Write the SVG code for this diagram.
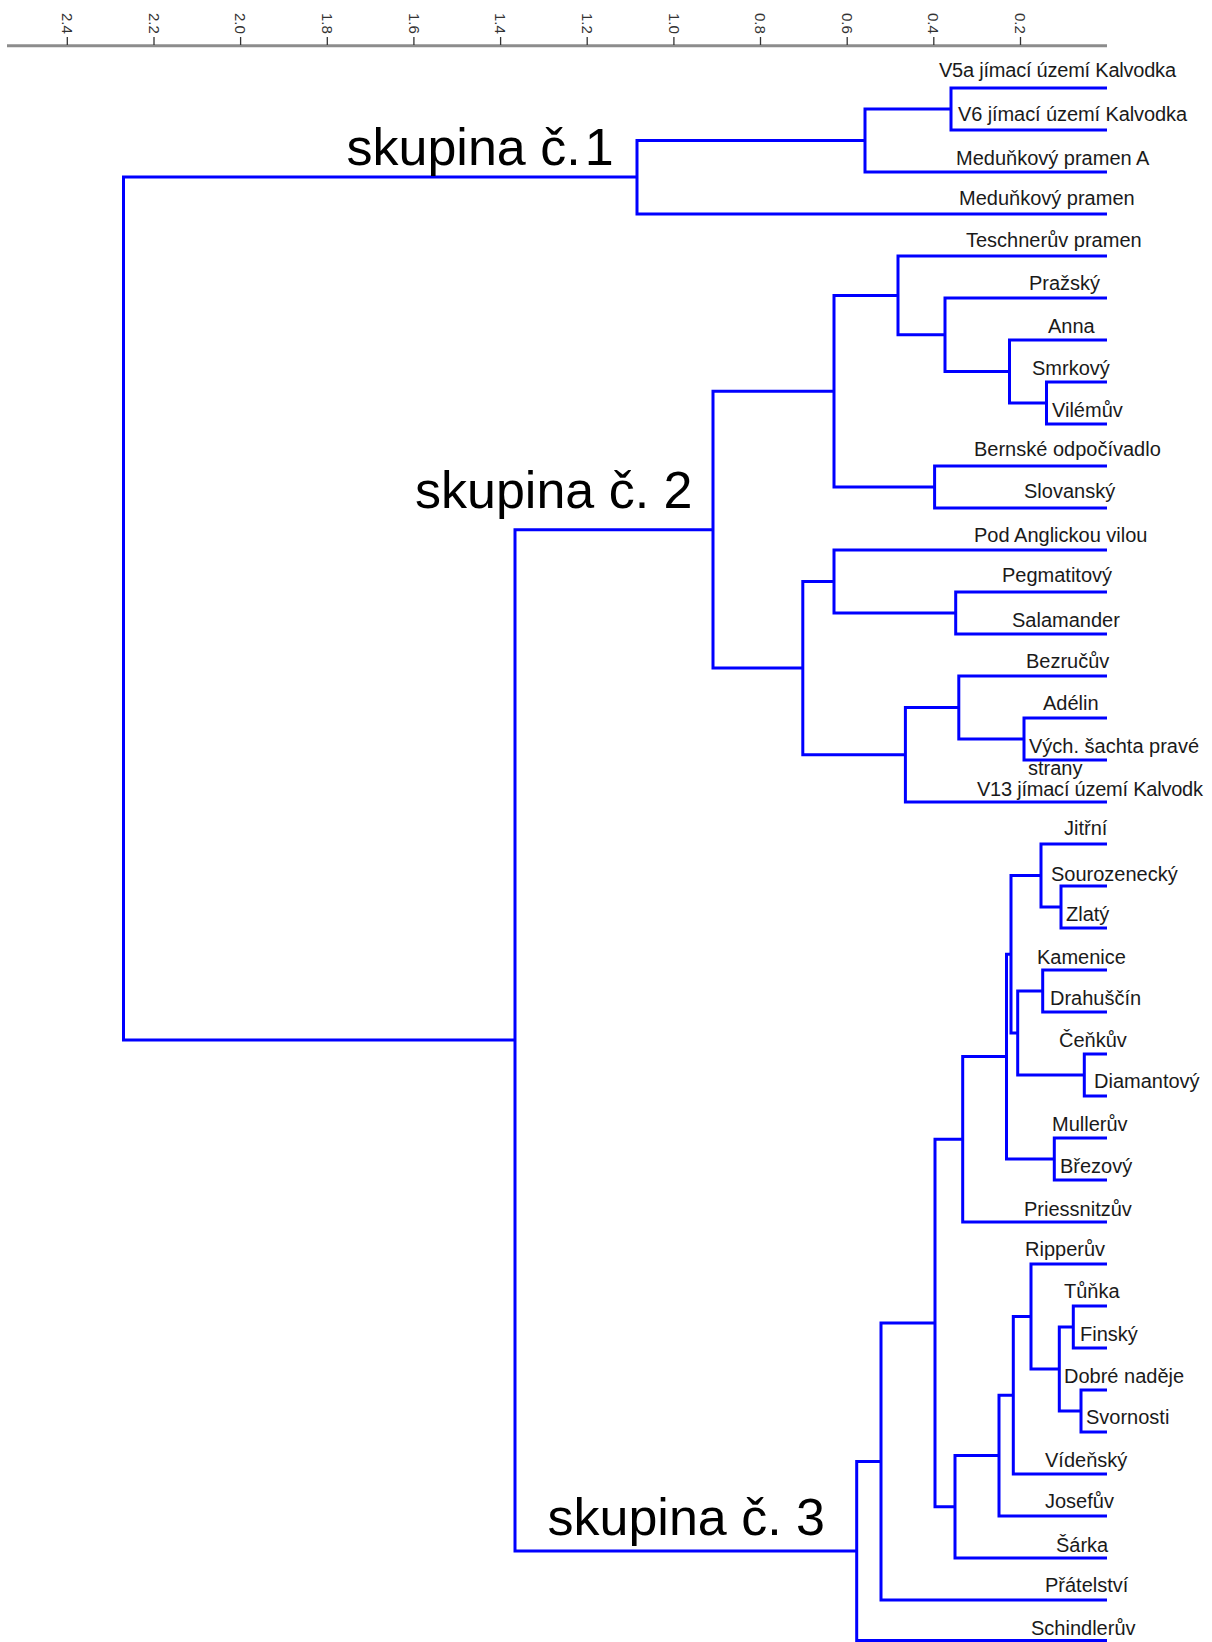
<svg xmlns="http://www.w3.org/2000/svg" width="1212" height="1642" viewBox="0 0 1212 1642">
<style>
.leaf{font-family:"Liberation Sans",Arial,sans-serif;font-size:20px;fill:#1a1a1a}
.grp{font-family:"Liberation Sans",Arial,sans-serif;font-size:52px;fill:#000}
.tick{font-family:"Liberation Sans",Arial,sans-serif;font-size:15px;fill:#333}
.br{fill:none;stroke:#0000ff;stroke-width:3;stroke-linejoin:miter}
.tk{stroke:#333;stroke-width:1.3}
</style>
<rect x="0" y="0" width="1212" height="1642" fill="#fff"/>
<g id="axis">
<line x1="7" y1="45.8" x2="1107" y2="45.8" stroke="#8c8c8c" stroke-width="3"/>
<g class="tk">
<line x1="67.3" y1="37" x2="67.3" y2="45"/>
<line x1="154" y1="37" x2="154" y2="45"/>
<line x1="240.6" y1="37" x2="240.6" y2="45"/>
<line x1="327.3" y1="37" x2="327.3" y2="45"/>
<line x1="413.9" y1="37" x2="413.9" y2="45"/>
<line x1="500.6" y1="37" x2="500.6" y2="45"/>
<line x1="587.2" y1="37" x2="587.2" y2="45"/>
<line x1="673.9" y1="37" x2="673.9" y2="45"/>
<line x1="760.5" y1="37" x2="760.5" y2="45"/>
<line x1="847.2" y1="37" x2="847.2" y2="45"/>
<line x1="933.8" y1="37" x2="933.8" y2="45"/>
<line x1="1020.5" y1="37" x2="1020.5" y2="45"/>
</g>
<g class="tick">
<text transform="translate(61.9,13) rotate(90)">2.4</text>
<text transform="translate(148.6,13) rotate(90)">2.2</text>
<text transform="translate(235.2,13) rotate(90)">2.0</text>
<text transform="translate(321.9,13) rotate(90)">1.8</text>
<text transform="translate(408.5,13) rotate(90)">1.6</text>
<text transform="translate(495.2,13) rotate(90)">1.4</text>
<text transform="translate(581.8,13) rotate(90)">1.2</text>
<text transform="translate(668.5,13) rotate(90)">1.0</text>
<text transform="translate(755.1,13) rotate(90)">0.8</text>
<text transform="translate(841.8,13) rotate(90)">0.6</text>
<text transform="translate(928.4,13) rotate(90)">0.4</text>
<text transform="translate(1015.1,13) rotate(90)">0.2</text>
</g>
</g>
<g id="connectors" class="br">
<path d="M1107 88H951V130H1107"/>
<path d="M951 109H865V172H1107"/>
<path d="M865 140.5H637V214H1107"/>
<path d="M637 177H123.5V1040H515"/>
<path d="M1107 382H1046.5V424H1107"/>
<path d="M1107 340H1009.5V403H1046.5"/>
<path d="M1107 298H945V371.5H1009.5"/>
<path d="M1107 256H898V334.75H945"/>
<path d="M1107 466H934.6V508H1107"/>
<path d="M898 295.4H834V487H934.6"/>
<path d="M1107 592H955.7V634H1107"/>
<path d="M1107 550H834V613H955.7"/>
<path d="M1107 718H1024V760H1107"/>
<path d="M1107 676H958.8V739H1024"/>
<path d="M958.8 707.5H905.4V802H1107"/>
<path d="M834 581.5H802.8V754.75H905.4"/>
<path d="M834 391.2H713V668.1H802.8"/>
<path d="M713 529.7H515V1551H856.7"/>
<path d="M1107 886H1061V928H1107"/>
<path d="M1107 844H1041V907H1061"/>
<path d="M1107 970H1042.7V1012H1107"/>
<path d="M1107 1054H1084.3V1096H1107"/>
<path d="M1042.7 991H1017.7V1075H1084.3"/>
<path d="M1041 875.5H1011V1033H1017.7"/>
<path d="M1107 1138H1054.3V1180H1107"/>
<path d="M1011 954.25H1006.5V1159H1054.3"/>
<path d="M1006.5 1056.6H962.7V1222H1107"/>
<path d="M1107 1306H1073.3V1348H1107"/>
<path d="M1107 1390H1081V1432H1107"/>
<path d="M1073.3 1327H1059.3V1411H1081"/>
<path d="M1107 1264H1031V1369H1059.3"/>
<path d="M1031 1316.5H1013.3V1474H1107"/>
<path d="M1013.3 1395.25H999V1516H1107"/>
<path d="M999 1455.6H955V1558H1107"/>
<path d="M962.7 1139.3H935V1506.8H955"/>
<path d="M935 1323H881V1600H1107"/>
<path d="M881 1461.5H856.7V1640.5H1107"/>
</g>
<g id="group-labels" class="grp">
<g id="skupina-1"><text x="346.5" y="164.5">skupina č.<tspan dx="4">1</tspan></text></g>
<g id="skupina-2"><text x="415" y="507.5">skupina č. 2</text></g>
<g id="skupina-3"><text x="547.5" y="1535">skupina č. 3</text></g>
</g>
<g id="leaves" class="leaf">
<g id="leaf-v5a"><text x="939" y="77" textLength="237">V5a jímací území Kalvodka</text></g>
<g id="leaf-v6"><text x="958" y="120.5" textLength="229">V6 jímací území Kalvodka</text></g>
<g id="leaf-medunkovy-a"><text x="956" y="165">Meduňkový pramen A</text></g>
<g id="leaf-medunkovy"><text x="959" y="205">Meduňkový pramen</text></g>
<g id="leaf-teschneruv"><text x="966" y="246.5">Teschnerův pramen</text></g>
<g id="leaf-prazsky"><text x="1029" y="290">Pražský</text></g>
<g id="leaf-anna"><text x="1048" y="333">Anna</text></g>
<g id="leaf-smrkovy"><text x="1032" y="375">Smrkový</text></g>
<g id="leaf-vilemuv"><text x="1052" y="416.5">Vilémův</text></g>
<g id="leaf-bernske"><text x="974" y="456">Bernské odpočívadlo</text></g>
<g id="leaf-slovansky"><text x="1024" y="498">Slovanský</text></g>
<g id="leaf-pod-anglickou"><text x="974" y="541.5">Pod Anglickou vilou</text></g>
<g id="leaf-pegmatitovy"><text x="1002" y="581.5">Pegmatitový</text></g>
<g id="leaf-salamander"><text x="1012" y="626.5">Salamander</text></g>
<g id="leaf-bezrucuv"><text x="1026" y="668">Bezručův</text></g>
<g id="leaf-adelin"><text x="1043" y="710">Adélin</text></g>
<g id="leaf-vych-sachta"><text x="1029" y="753">Vých. šachta pravé<tspan x="1028" y="774.5">strany</tspan></text></g>
<g id="leaf-v13"><text x="977" y="796" textLength="226">V13 jímací území Kalvodk</text></g>
<g id="leaf-jitrni"><text x="1064" y="835">Jitřní</text></g>
<g id="leaf-sourozenecky"><text x="1051" y="881">Sourozenecký</text></g>
<g id="leaf-zlaty"><text x="1066" y="920.5">Zlatý</text></g>
<g id="leaf-kamenice"><text x="1037" y="964">Kamenice</text></g>
<g id="leaf-drahuscin"><text x="1050" y="1005">Drahuščín</text></g>
<g id="leaf-cenkuv"><text x="1059" y="1047">Čeňkův</text></g>
<g id="leaf-diamantovy"><text x="1094" y="1088">Diamantový</text></g>
<g id="leaf-mulleruv"><text x="1052" y="1131">Mullerův</text></g>
<g id="leaf-brezovy"><text x="1060" y="1172.5">Březový</text></g>
<g id="leaf-priessnitzuv"><text x="1024" y="1216">Priessnitzův</text></g>
<g id="leaf-ripperuv"><text x="1025" y="1256">Ripperův</text></g>
<g id="leaf-tunka"><text x="1064" y="1298">Tůňka</text></g>
<g id="leaf-finsky"><text x="1080" y="1340.5">Finský</text></g>
<g id="leaf-dobre-nadeje"><text x="1064" y="1383">Dobré naděje</text></g>
<g id="leaf-svornosti"><text x="1086" y="1424">Svornosti</text></g>
<g id="leaf-vidensky"><text x="1045" y="1466.5">Vídeňský</text></g>
<g id="leaf-josefuv"><text x="1045" y="1508">Josefův</text></g>
<g id="leaf-sarka"><text x="1056" y="1551.5">Šárka</text></g>
<g id="leaf-pratelstvi"><text x="1045" y="1591.5">Přátelství</text></g>
<g id="leaf-schindleruv"><text x="1031" y="1635">Schindlerův</text></g>
</g>
</svg>
